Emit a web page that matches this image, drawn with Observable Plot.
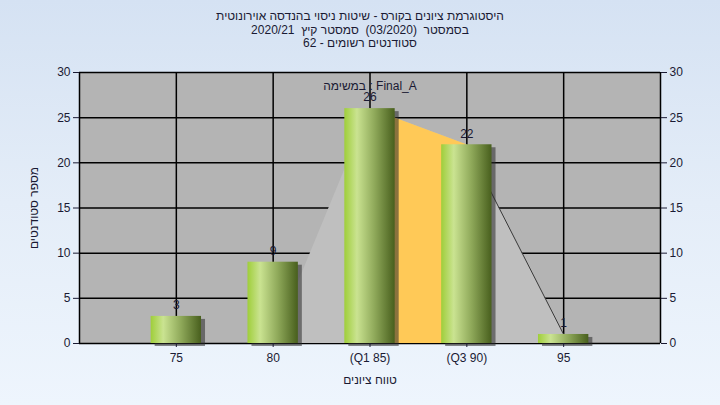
<!DOCTYPE html>
<html>
<head>
<meta charset="utf-8">
<script src="https://cdn.jsdelivr.net/npm/d3@7"></script>
<script src="https://cdn.jsdelivr.net/npm/@observablehq/plot@0.6"></script>
<style>
  html, body { margin: 0; padding: 0; }
  body {
    width: 720px; height: 405px; overflow: hidden; position: relative;
    background: linear-gradient(to bottom, #d5e2f3 0%, #e4edf8 50%, #eef5fd 100%);
    font-family: "Liberation Sans", Arial, sans-serif;
  }
  #title {
    position: absolute; left: 0; top: 10px; width: 720px; text-align: center;
    font-size: 12px; line-height: 13.5px; color: #1a1a33; direction: rtl;
  }
  #chart { position: absolute; left: 0; top: 0; }
</style>
</head>
<body>
<div id="chart"></div>
<div id="title">
  <div>היסטוגרמת ציונים בקורס - שיטות ניסוי בהנדסה אוירונוטית</div>
  <div>בסמסטר&nbsp; (03/2020)&nbsp; סמסטר קיץ&nbsp; 2020/21</div>
  <div>סטודנטים רשומים - 62</div>
</div>
<script>
// ---- data ----
const grades = [75, 80, 85, 90, 95];
const tickLabels = ["75", "80", "(Q1 85)", "(Q3 90)", "95"];
const counts = [3, 9, 26, 22, 1];
const curveGrades = [80, 85, 90, 95];
const curveValues = [0, 26, 22, 1];
const iqrGrades = [85, 90];
const iqrValues = [26, 22];
const tailGrades = [90, 95];
const tailValues = [22, 1];
const yTicks = [0, 5, 10, 15, 20, 25, 30];
const taskLabel = "במשימה : Final_A";
const xTitle = "טווח ציונים";
const yTitle = "מספר סטודנטים";

const bars = grades.map((g, i) => ({grade: g, count: counts[i]}));
const curve = curveGrades.map((g, i) => ({grade: g, count: curveValues[i]}));
const iqr = iqrGrades.map((g, i) => ({grade: g, count: iqrValues[i]}));
const tail = tailGrades.map((g, i) => ({grade: g, count: tailValues[i]}));
const half = 1.3;

const textColor = "#1a1a33";

const plot = Plot.plot({
  width: 720,
  height: 405,
  marginLeft: 79,
  marginRight: 60,
  marginTop: 72,
  marginBottom: 62,
  style: {background: "transparent", fontFamily: "'Liberation Sans', Arial, sans-serif", fontSize: "12px", color: textColor},
  x: {domain: [70, 100]},
  y: {domain: [0, 30]},
  marks: [
    Plot.frame({fill: "#b4b4b4"}),
    Plot.ruleY(yTicks, {stroke: "black", strokeWidth: 1.5}),
    Plot.ruleX(grades, {stroke: "black", strokeWidth: 1.5}),
    Plot.areaY(curve, {x: "grade", y: "count", fill: "#bfbfbf"}),
    Plot.areaY(iqr, {x: "grade", y: "count", fill: "#ffc957"}),
    Plot.line(tail, {x: "grade", y: "count", stroke: "#3a3a3a", strokeWidth: 1}),
    Plot.rect(bars, {x1: d => d.grade - half, x2: d => d.grade + half, y1: 0, y2: "count",
      fill: "#2a2a2a", fillOpacity: 0.55, dx: 4, dy: 3, ariaLabel: "shadow"}),
    Plot.rect(bars, {x1: d => d.grade - half, x2: d => d.grade + half, y1: 0, y2: "count",
      fill: "url(#barGrad)"}),
    Plot.text([taskLabel], {frameAnchor: "top", lineAnchor: "middle", dy: 14, text: d => d, fill: textColor, fontSize: 12}),
    Plot.text(bars, {x: "grade", y: "count", text: d => String(d.count), dy: -11, fill: textColor, fontSize: 12}),
    Plot.ruleX([70, 100], {stroke: "black", strokeWidth: 1.5}),
    Plot.axisY({anchor: "left", ticks: yTicks, tickSize: 6, tickPadding: 3, label: null, fill: textColor, fontSize: 12}),
    Plot.axisY({anchor: "right", ticks: yTicks, tickSize: 6, tickPadding: 3, label: null, fill: textColor, fontSize: 12}),
    Plot.axisX({ticks: grades, tickFormat: d => tickLabels[grades.indexOf(d)], tickSize: 4, tickPadding: 6, label: null, fill: textColor, fontSize: 12}),
    Plot.text([xTitle], {frameAnchor: "bottom", lineAnchor: "middle", dy: 37, text: d => d, fill: textColor, fontSize: 12}),
    Plot.text([yTitle], {frameAnchor: "left", textAnchor: "middle", lineAnchor: "middle", dx: -45, rotate: -90, text: d => d, fill: textColor, fontSize: 12})
  ]
});

const svg = d3.select(plot);
const defs = svg.insert("defs", ":first-child");
const grad = defs.append("linearGradient").attr("id", "barGrad").attr("x1", "0%").attr("x2", "100%").attr("y1", "0%").attr("y2", "0%");
[["0%", "#9fce3a"], ["25%", "#cae391"], ["60%", "#8fa95a"], ["100%", "#485f1d"]].forEach(([o, c]) =>
  grad.append("stop").attr("offset", o).attr("stop-color", c));
const f = defs.append("filter").attr("id", "blurShadow").attr("x", "-20%").attr("y", "-20%").attr("width", "140%").attr("height", "140%");
f.append("feGaussianBlur").attr("stdDeviation", 2);
svg.selectAll("g[aria-label='shadow']").attr("filter", "url(#blurShadow)");

document.getElementById("chart").appendChild(plot);
</script>
</body>
</html>
